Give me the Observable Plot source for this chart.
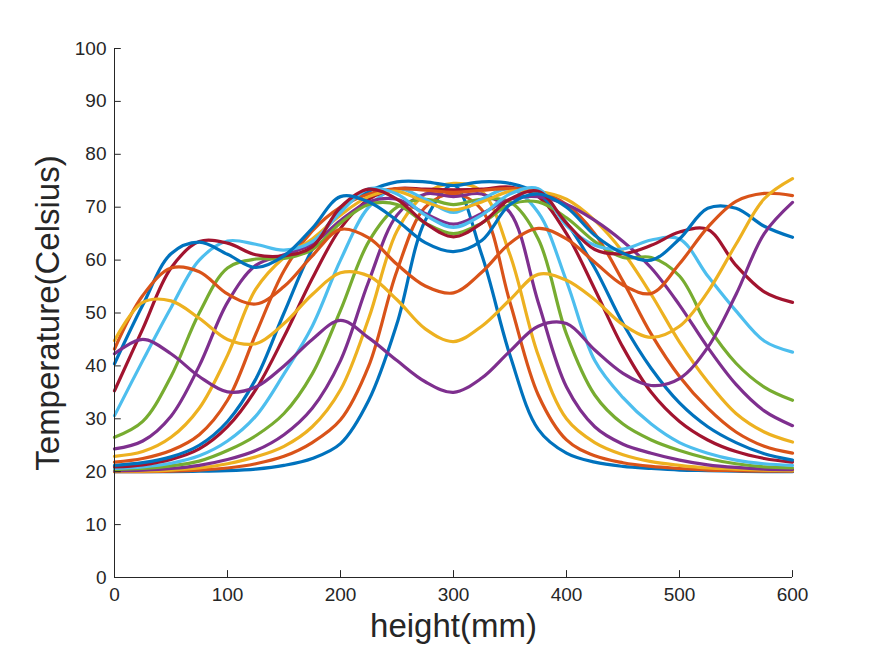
<!DOCTYPE html>
<html><head><meta charset="utf-8">
<script src="https://cdn.jsdelivr.net/npm/d3@7"></script>
<script src="https://cdn.jsdelivr.net/npm/@observablehq/plot@0.6"></script>
<style>body{margin:0;background:#fff;}</style>
</head><body><div id="chart"></div>
<script>
// height positions (mm)
const heights = [0,25,50,75,100,125,150,175,200,225,250,275,300,325,350,375,400,425,450,475,500,525,550,575,600];
// temperature curves (Celsius), one per time step
const t01 = [20,20,20,20.1,20.2,20.5,21.2,22.5,25.3,33.5,48,67.5,74.2,61,42,28,23.5,21.8,21,20.6,20.3,20.2,20.1,20,20];
const t02 = [20,20,20.1,20.3,20.7,21.5,22.9,25.5,29.8,40,58,70,72.5,69.5,52,34.5,26,23,21.7,21,20.6,20.3,20.2,20.1,20.1];
const t03 = [20.1,20.1,20.3,20.7,21.5,22.8,24.8,28.5,35.5,49,65.5,72.5,74.5,73,61,42,30,25.5,23.2,21.9,21.2,20.7,20.5,20.3,20.2];
const t04 = [20.2,20.3,20.6,21.2,22.3,24,27,32,41,56,68.5,72.5,72,72.5,69,52,36,28.5,25.2,23.5,22.2,21.3,20.8,20.5,20.4];
const t05 = [20.4,20.6,21.1,22,24,26.8,31,38.5,50.5,63.5,70,71.5,70.5,71.5,71,64,46,34.5,29,26,24,22.5,21.5,20.9,20.7];
const t06 = [20.6,20.9,21.6,23,25.8,30.5,38.5,47.5,60,70,73.5,71.5,69,71.5,73.5,69,56,41,34,29,25.5,23.5,22.2,21.5,21.2];
const t07 = [20.9,21.3,22.3,24.3,28.5,35.5,45.5,56.5,66,71.5,73.5,73.4,73.3,73.4,73.8,72,65,54.5,43.5,35,29.5,26,23.8,22.5,21.8];
const t08 = [21.2,21.7,22.8,25,29.5,37.5,50,62,69.5,73,74.8,74.8,74.1,74.8,74.5,72.5,67,58.5,48,39.5,33,28.5,25.5,23.4,22.2];
const t09 = [21.8,22.5,24,27,33.5,46,58,65.5,70,72.5,73.5,73.2,72.8,73.2,73.5,73,70.5,65,56,46,38,32,27.5,24.8,23.5];
const t10 = [22.9,23.8,26.5,32,42,54.5,60.5,64,68.5,72,73,71,69.5,71,73,73,71.5,67.5,61.5,53.5,44.5,37,31,27.5,25.6];
const t11 = [24.3,25.8,30.5,40,52,59,61,63,67.5,71,71.5,68.8,66.8,68.8,71.5,72,70.5,67.5,63.5,58.5,51.5,43.5,36.5,31.5,28.7];
const t12 = [26.5,29.5,38,50,58.5,60.2,60.3,62,67,70.5,70.5,67,65,67,70.5,71,68,63.5,60.5,60.5,57,47.5,40.5,36,33.5];
const t13 = [30.6,41,51,60,63.6,63,61.9,63.5,69,73.5,72.5,68.5,66.2,68.5,72.5,73.5,66.5,62.8,62.1,63.8,64,57,50.4,44.7,42.6];
const t14 = [35.3,47,58.5,63.5,63.2,61,60.8,62.5,70,73.4,71.5,67,64.4,67,71.5,73,67,62,61.2,62.8,65.3,65.8,59,54,52];
const t15 = [40.4,51.5,61.2,63.4,61.1,58.6,60.8,66,72,71,67.5,63.3,61.6,63.7,70.5,72.5,70,64.7,61.3,60,64,69.8,69.8,66.4,64.3];
const t16 = [43.2,53.3,58.5,57.8,53.6,51.7,55,60.8,65.8,64.2,59.2,55.1,53.8,57.7,63.2,66,64,59.6,55.3,53.7,59.3,66.2,71.1,72.6,72.2];
const t17 = [44.8,52,52.3,49,45,44.2,48,53.5,57.6,57,52.5,47,44.6,47.5,52.5,57.3,56.2,52.5,47.8,45.4,47.5,54,63,71.6,75.4];
const t18 = [42.3,45,42.3,38,35.1,36,40,45,48.6,45.3,41,37,35,37.7,42.8,47.5,48,43,38.6,36.3,37.6,43.5,53.5,65,70.9];
const seriesList = [t01,t02,t03,t04,t05,t06,t07,t08,t09,t10,t11,t12,t13,t14,t15,t16,t17,t18];
const colors = ["#0072BD","#D95319","#EDB120","#7E2F8E","#77AC30","#4DBEEE","#A2142F"];
const xTicks = [0,100,200,300,400,500,600];
const yTicks = [0,10,20,30,40,50,60,70,80,90,100];
const xLabel = "height(mm)";
const yLabel = "Temperature(Celsius)";

const axisColor = "#262626";
const lineMarks = seriesList.map((s, i) =>
  Plot.line(heights.map((h, j) => ({h, t: s[j]})), {
    x: "h", y: "t", stroke: colors[i % colors.length], strokeWidth: 3.2,
    curve: "catmull-rom", strokeLinejoin: "round"
  })
);

const chart = Plot.plot({
  width: 875, height: 656,
  marginLeft: 114, marginRight: 83, marginTop: 48, marginBottom: 79,
  style: {fontFamily: "'Liberation Sans', Arial, sans-serif", background: "#fff", color: axisColor},
  x: {domain: [0, 600], label: null},
  y: {domain: [0, 100], label: null},
  marks: [
    ...lineMarks,
    Plot.ruleX([0], {stroke: axisColor, strokeWidth: 1}),
    Plot.ruleY([0], {stroke: axisColor, strokeWidth: 1}),
    Plot.ruleY(yTicks, {y: d => d, x1: 0, x2: 6, stroke: axisColor}),
    Plot.ruleX(xTicks, {x: d => d, y1: 0, y2: 1.3, stroke: axisColor}),
    Plot.axisX({ticks: xTicks, tickSize: 0, tickPadding: 10, fontSize: 19, fill: axisColor, label: null}),
    Plot.axisY({ticks: yTicks, tickSize: 0, tickPadding: 8, fontSize: 19, fill: axisColor, label: null}),
    Plot.text([xLabel], {text: d => d, frameAnchor: "bottom", textAnchor: "middle", dy: 59, fontSize: 33, fill: axisColor}),
    Plot.text([yLabel], {text: d => d, frameAnchor: "left", textAnchor: "middle", lineAnchor: "middle", dx: -66, rotate: -90, fontSize: 33, fill: axisColor})
  ]
});
document.getElementById("chart").appendChild(chart);
</script>
</body></html>
